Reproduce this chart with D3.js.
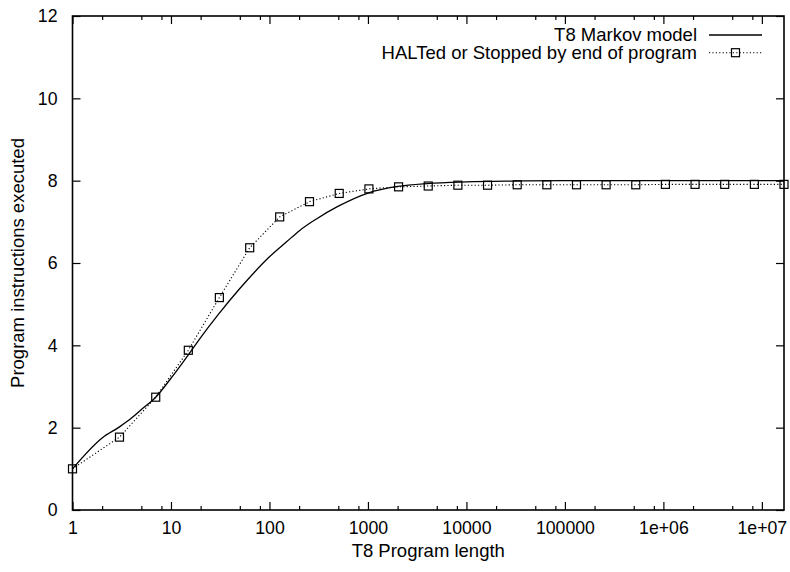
<!DOCTYPE html>
<html>
<head>
	<meta charset="utf-8">
	<title>T8 Markov model</title>
	<script type="text/javascript" src="https://cdn.jsdelivr.net/npm/d3@7"></script>
	<style>
		body {
			margin: 0;
			background: #fff;
		}
		svg text {
			font-family: "Liberation Sans", Arial, Helvetica, sans-serif;
			font-size: 18.5px;
			fill: #000;
		}
		svg .tick text {
			font-size: 17.7px;
		}
	</style>
</head>

<body>

	<div id="chart"></div>

	<script>

		// data

		const markovX = [1, 2, 3, 4, 5, 7, 10, 15, 20, 30, 50, 70, 100, 150, 200, 300, 500, 1000, 2000, 4000, 10000, 30000, 100000, 16777216];
		const markovY = [1.0, 1.75, 2.02, 2.24, 2.44, 2.74, 3.2, 3.77, 4.19, 4.74, 5.38, 5.77, 6.15, 6.52, 6.78, 7.07, 7.38, 7.70, 7.86, 7.93, 7.97, 7.99, 8.0, 8.0];

		const haltedX = [1, 3, 7, 15, 31, 63, 127, 255, 511, 1023, 2047, 4095, 8191, 16383, 32767, 65535, 131071, 262143, 524287, 1048575, 2097151, 4194303, 8388607, 16777215];
		const haltedY = [1.0, 1.77, 2.74, 3.88, 5.16, 6.37, 7.12, 7.49, 7.69, 7.80, 7.85, 7.87, 7.89, 7.89, 7.90, 7.90, 7.90, 7.90, 7.90, 7.91, 7.91, 7.91, 7.91, 7.91];

		const xMajor = [1, 10, 100, 1000, 10000, 100000, 1e6, 1e7];
		const xMajorLabels = ["1", "10", "100", "1000", "10000", "100000", "1e+06", "1e+07"];
		const xMinor = [2, 5, 8, 20, 50, 80, 200, 500, 800, 2000, 5000, 8000, 2e4, 5e4, 8e4, 2e5, 5e5, 8e5, 2e6, 5e6, 8e6];
		const yTicks = [0, 2, 4, 6, 8, 10, 12];

		const seriesNames = ["T8 Markov model", "HALTed or Stopped by end of program"];

		// layout

		const width = 790;
		const height = 572;
		const mLeft = 72.5, mRight = 784, mTop = 16, mBottom = 510;

		const svg = d3.select("#chart")
			.append("svg")
			.attr("width", width)
			.attr("height", height);

		const x = d3.scaleLog().domain([1, 16777216]).range([mLeft, mRight]);
		const y = d3.scaleLinear().domain([0, 12]).range([mBottom, mTop]);

		// axes (gnuplot style: ticks point inward, mirrored on top/right)

		function styleAxis(g) {
			g.select(".domain").remove();
			g.selectAll(".tick line").attr("stroke", "#000").attr("stroke-width", 1.2);
			g.attr("font-family", null).attr("font-size", null);
		}

		svg.append("g")
			.attr("transform", `translate(0,${mBottom})`)
			.call(d3.axisBottom(x).tickValues(xMajor).tickSize(-8).tickPadding(11)
				.tickFormat((d, i) => xMajorLabels[i]))
			.call(styleAxis);

		svg.append("g")
			.attr("transform", `translate(0,${mBottom})`)
			.call(d3.axisBottom(x).tickValues(xMinor).tickSize(-4).tickFormat(""))
			.call(styleAxis);

		svg.append("g")
			.attr("transform", `translate(0,${mTop})`)
			.call(d3.axisTop(x).tickValues(xMajor).tickSize(-8).tickFormat(""))
			.call(styleAxis);

		svg.append("g")
			.attr("transform", `translate(0,${mTop})`)
			.call(d3.axisTop(x).tickValues(xMinor).tickSize(-4).tickFormat(""))
			.call(styleAxis);

		svg.append("g")
			.attr("transform", `translate(${mLeft},0)`)
			.call(d3.axisLeft(y).tickValues(yTicks).tickSize(-8).tickPadding(15))
			.call(styleAxis);

		svg.append("g")
			.attr("transform", `translate(${mRight},0)`)
			.call(d3.axisRight(y).tickValues(yTicks).tickSize(-8).tickFormat(""))
			.call(styleAxis);

		// frame
		svg.append("rect")
			.attr("x", mLeft)
			.attr("y", mTop)
			.attr("width", mRight - mLeft)
			.attr("height", mBottom - mTop)
			.attr("fill", "none")
			.attr("stroke", "#000")
			.attr("stroke-width", 1.6);

		// axis titles
		svg.append("text")
			.attr("x", (mLeft + mRight) / 2)
			.attr("y", 557)
			.attr("text-anchor", "middle")
			.text("T8 Program length");

		svg.append("text")
			.attr("transform", `translate(24,${(mTop + mBottom) / 2}) rotate(-90)`)
			.attr("text-anchor", "middle")
			.text("Program instructions executed");

		// series

		const markov = markovX.map((d, i) => [d, markovY[i]]);
		const halted = haltedX.map((d, i) => [d, haltedY[i]]);

		const line = d3.line()
			.x(d => x(d[0]))
			.y(d => y(d[1]));

		svg.append("path")
			.datum(markov)
			.attr("fill", "none")
			.attr("stroke", "#000")
			.attr("stroke-width", 1.3)
			.attr("d", line.curve(d3.curveMonotoneX));

		svg.append("path")
			.datum(halted)
			.attr("fill", "none")
			.attr("stroke", "#000")
			.attr("stroke-width", 1.1)
			.attr("stroke-dasharray", "1.2,2.2")
			.attr("d", d3.line().x(d => x(d[0])).y(d => y(d[1])));

		const sq = 8;
		svg.append("g")
			.selectAll("rect")
			.data(halted)
			.join("rect")
			.attr("x", d => x(d[0]) - sq / 2)
			.attr("y", d => y(d[1]) - sq / 2)
			.attr("width", sq)
			.attr("height", sq)
			.attr("fill", "none")
			.attr("stroke", "#000")
			.attr("stroke-width", 1.2);

		// legend
		const legend = svg.append("g");
		const rowY = [35, 52.7];

		legend.selectAll("text")
			.data(seriesNames)
			.join("text")
			.attr("x", 697)
			.attr("y", (d, i) => rowY[i])
			.attr("dy", "0.35em")
			.attr("text-anchor", "end")
			.text(d => d);

		legend.append("line")
			.attr("x1", 709).attr("x2", 762)
			.attr("y1", rowY[0]).attr("y2", rowY[0])
			.attr("stroke", "#000")
			.attr("stroke-width", 1.3);

		legend.append("line")
			.attr("x1", 709).attr("x2", 762)
			.attr("y1", rowY[1]).attr("y2", rowY[1])
			.attr("stroke", "#000")
			.attr("stroke-width", 1.1)
			.attr("stroke-dasharray", "1.2,2.2");

		legend.append("rect")
			.attr("x", 735.5 - sq / 2)
			.attr("y", rowY[1] - sq / 2)
			.attr("width", sq)
			.attr("height", sq)
			.attr("fill", "none")
			.attr("stroke", "#000")
			.attr("stroke-width", 1.2);

	</script>

</body>

</html>
